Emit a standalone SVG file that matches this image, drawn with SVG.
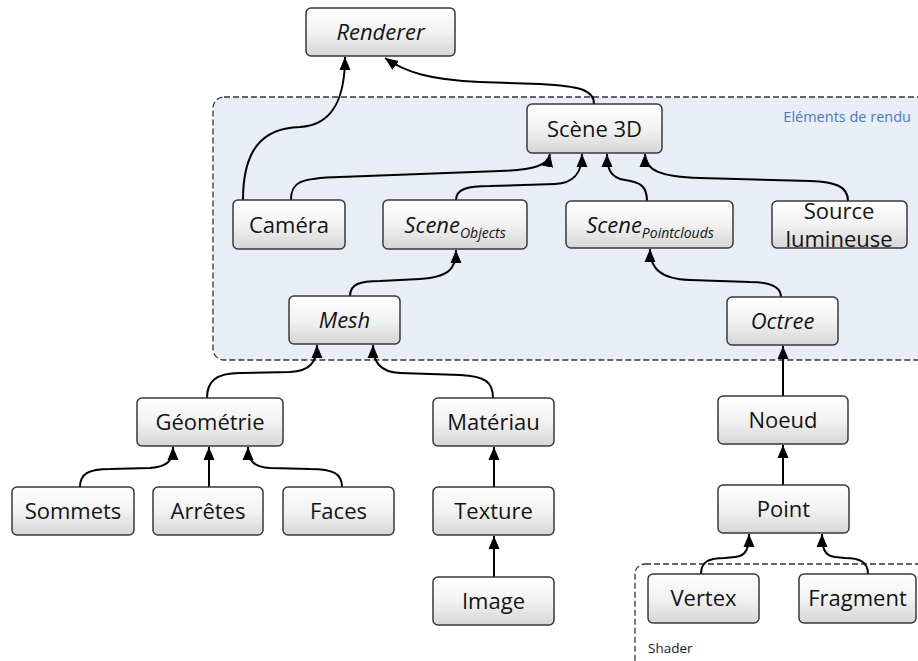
<svg xmlns="http://www.w3.org/2000/svg" width="918" height="661" viewBox="0 0 918 661">
<style>
.box{fill:url(#g);stroke:#383838;stroke-width:1.5}
.t{font-family:"Open Sans","Liberation Sans",sans-serif;font-size:22px;fill:#141414;text-anchor:middle}
.i{font-style:italic}
.sub{font-size:14px}
.c{fill:none;stroke:#000;stroke-width:2;marker-end:url(#a)}
.grp{stroke:#333;stroke-width:1.3;stroke-dasharray:6,3}
</style>
<defs>
<linearGradient id="g" x1="0" y1="0" x2="0" y2="1">
<stop offset="0" stop-color="#ffffff"/>
<stop offset="0.5" stop-color="#f2f2f2"/>
<stop offset="1" stop-color="#d6d6d6"/>
</linearGradient>
<marker id="a" markerUnits="userSpaceOnUse" markerWidth="14" markerHeight="12" refX="13" refY="5.5" orient="auto" viewBox="0 0 14 11">
<path d="M0,0 L13,5.5 L0,11 z" fill="#000"/>
</marker>
</defs>
<rect width="918" height="661" fill="#fff"/>
<g id="group-rendu">
<rect class="grp" x="213" y="97" width="718" height="263" rx="11" fill="#e9edf6"/>
<text x="911" y="122" font-family="'Open Sans','Liberation Sans',sans-serif" font-size="14.5" fill="#4a78c8" text-anchor="end">Eléments de rendu</text>
</g>
<g id="group-shader">
<rect class="grp" x="635" y="564" width="300" height="120" rx="10" fill="none"/>
<text x="648" y="653" font-family="'Open Sans','Liberation Sans',sans-serif" font-size="13.5" fill="#1a1a1a">Shader</text>
</g>
<g id="connectors">
<path class="c" d="M243,200 C243,150 262,128 300,127 C335,125 345,95 345,57"/>
<path class="c" d="M594,104 C594,90 580,86 540,84 L480,82 C430,80 405,72 385,58"/>
<path class="c" d="M291,200 C291,182 300,178 340,177 L500,171 C535,170 548,165 550,154"/>
<path class="c" d="M456,200 C456,190 465,186 490,186 L555,184 C575,183 582,172 582,154"/>
<path class="c" d="M647,201 C647,186 640,182 625,180 C610,178 607,168 607,154"/>
<path class="c" d="M848,201 C848,186 835,182 810,181 L700,178 C660,177 645,170 645,154"/>
<path class="c" d="M350,296 C350,284 360,281 380,281 L420,279 C450,277 456,268 456,250"/>
<path class="c" d="M781,297 C781,287 772,282 750,282 L690,280 C660,279 650,268 650,249"/>
<path class="c" d="M207,398 C207,382 215,373 240,373 L290,372 C310,371 317,362 317,345"/>
<path class="c" d="M493,398 C493,382 485,376 460,375 L400,373 C380,372 373,362 373,345"/>
<path class="c" d="M80,487 C80,474 88,469 110,469 L150,468 C168,467 173,460 173,447"/>
<path class="c" d="M209,487 L209,447"/>
<path class="c" d="M342,487 C342,474 334,469 310,469 L270,468 C253,467 248,460 248,447"/>
<path class="c" d="M494,487 L494,447"/>
<path class="c" d="M494,577 L494,536"/>
<path class="c" d="M783,396 L783,346"/>
<path class="c" d="M783,485 L783,445"/>
<path class="c" d="M701,574 C701,562 708,558 725,558 L735,557 C747,556 749,547 749,534"/>
<path class="c" d="M868,574 C868,562 860,558 845,558 L835,557 C824,556 822,547 822,534"/>
</g>
<g id="renderer"><rect class="box" x="306" y="8" width="149" height="48" rx="5"/><text class="t i" x="380.5" y="40">Renderer</text></g>
<g id="scene3d"><rect class="box" x="527" y="104" width="135" height="49" rx="5"/><text class="t" x="594.5" y="136.5">Scène 3D</text></g>
<g id="camera"><rect class="box" x="233" y="200" width="112" height="49" rx="5"/><text class="t" x="289" y="233">Caméra</text></g>
<g id="scene-objects"><rect class="box" x="383" y="200" width="144" height="49" rx="5"/><text class="t i" x="455" y="233">Scene<tspan class="sub" dy="5">Objects</tspan></text></g>
<g id="scene-pointclouds"><rect class="box" x="566" y="201" width="167" height="47" rx="5"/><text class="t i" x="650" y="233">Scene<tspan class="sub" dy="5">Pointclouds</tspan></text></g>
<g id="source"><rect class="box" x="772" y="201" width="135" height="47" rx="5"/><text class="t" x="839" y="219">Source</text><text class="t" x="839" y="247">lumineuse</text></g>
<g id="mesh"><rect class="box" x="289" y="296" width="111" height="48" rx="5"/><text class="t i" x="344.5" y="328">Mesh</text></g>
<g id="octree"><rect class="box" x="727" y="297" width="111" height="48" rx="5"/><text class="t i" x="782.5" y="329">Octree</text></g>
<g id="geometrie"><rect class="box" x="137" y="398" width="146" height="48" rx="5"/><text class="t" x="210" y="430">Géométrie</text></g>
<g id="materiau"><rect class="box" x="433" y="398" width="121" height="48" rx="5"/><text class="t" x="493.5" y="430">Matériau</text></g>
<g id="noeud"><rect class="box" x="718" y="396" width="130" height="48" rx="5"/><text class="t" x="783" y="428">Noeud</text></g>
<g id="sommets"><rect class="box" x="12" y="487" width="122" height="48" rx="5"/><text class="t" x="73" y="519">Sommets</text></g>
<g id="arretes"><rect class="box" x="153" y="487" width="110" height="48" rx="5"/><text class="t" x="208" y="519">Arrêtes</text></g>
<g id="faces"><rect class="box" x="283" y="487" width="111" height="48" rx="5"/><text class="t" x="338.5" y="519">Faces</text></g>
<g id="texture"><rect class="box" x="433" y="487" width="121" height="48" rx="5"/><text class="t" x="493.5" y="519">Texture</text></g>
<g id="point"><rect class="box" x="718" y="485" width="131" height="48" rx="5"/><text class="t" x="783.5" y="517">Point</text></g>
<g id="image"><rect class="box" x="433" y="577" width="121" height="48" rx="5"/><text class="t" x="493.5" y="609">Image</text></g>
<g id="vertex"><rect class="box" x="648" y="574" width="111" height="49" rx="5"/><text class="t" x="703.5" y="606">Vertex</text></g>
<g id="fragment"><rect class="box" x="799" y="574" width="117" height="49" rx="5"/><text class="t" x="857.5" y="606">Fragment</text></g>
</svg>
